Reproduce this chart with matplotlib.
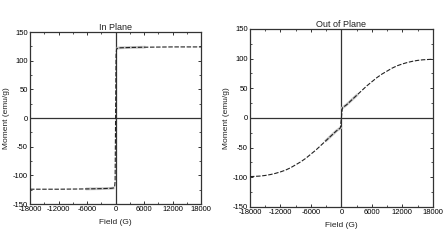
import matplotlib
matplotlib.use("Agg")
import matplotlib.pyplot as plt
from matplotlib.ticker import MultipleLocator

plt.rcParams["font.family"] = ["Liberation Sans", "DejaVu Sans"]
plt.rcParams["axes.unicode_minus"] = False

# in plane loop
ip_field = [-18000, -12000, -6000, -3000, -1000, -500, -200, -100, 0, 100, 200, 500, 1000, 3000, 6000, 12000, 18000]
ip_moment = [-124, -124, -123.5, -123, -122.5, -122, -120, -110, 0, 110, 120, 122, 122.5, 123, 123.5, 124, 124]
ip_grey_field = [-6000, -3000, -1000, -500, 500, 1000, 3000, 6000]
ip_grey_moment = [-123.5, -123, -122.5, -122, 122, 122.5, 123, 123.5]

# out of plane loop
oop_field = [-18000, -17000, -16000, -15000, -14000, -13000, -12000, -11000, -10000, -9000, -8000,
             -7000, -6000, -5000, -4000, -3000, -2000, -1000, -200, 0, 200, 1000, 2000, 3000, 4000,
             5000, 6000, 7000, 8000, 9000, 10000, 11000, 12000, 13000, 14000, 15000, 16000, 17000, 18000]
oop_moment = [-99, -98.5, -98, -97, -95.5, -93.5, -91, -88, -84, -79, -74,
              -68, -61, -54, -46, -38, -30, -22, -17, 0, 17, 22, 30, 38, 46,
              54, 61, 68, 74, 79, 84, 88, 91, 93.5, 95.5, 97, 98, 98.5, 99]
oop_grey_field = [-3000, -2000, -1000, -200, 200, 1000, 2000, 3000]
oop_grey_moment = [-38, -30, -22, -17, 17, 22, 30, 38]

xticks = [-18000, -12000, -6000, 0, 6000, 12000, 18000]
yticks = [-150, -100, -50, 0, 50, 100, 150]

fig = plt.figure(figsize=(4.48, 2.52), dpi=100)
ax1 = fig.add_axes([0.067, 0.19, 0.382, 0.683])
ax2 = fig.add_axes([0.558, 0.179, 0.408, 0.706])

panels = [
    (ax1, "In Plane", ip_field, ip_moment, ip_grey_field, ip_grey_moment),
    (ax2, "Out of Plane", oop_field, oop_moment, oop_grey_field, oop_grey_moment),
]

for ax, title, f, m, gf, gm in panels:
    ax.axhline(0, color="#333333", lw=0.9, zorder=1)
    ax.axvline(0, color="#333333", lw=0.9, zorder=1)
    half = len(gf) // 2
    ax.plot(gf[:half], gm[:half], color="#c8c8c8", lw=2.0, zorder=2)
    ax.plot(gf[half:], gm[half:], color="#c8c8c8", lw=2.0, zorder=2)
    ax.plot(f, m, color="#222222", lw=0.8, ls=(0, (4, 1.5)), zorder=3)
    ax.set_xlim(-18000, 18000)
    ax.set_ylim(-150, 150)
    ax.set_xticks(xticks)
    ax.set_yticks(yticks)
    ax.xaxis.set_minor_locator(MultipleLocator(3000))
    ax.yaxis.set_minor_locator(MultipleLocator(25))
    ax.tick_params(which="both", direction="in", top=True, right=True,
                   labelsize=5.5, color="#333333", pad=1.5)
    ax.tick_params(which="major", length=2.5, width=0.7)
    ax.tick_params(which="minor", length=1.5, width=0.6)
    for s in ax.spines.values():
        s.set_color("#333333")
        s.set_linewidth(0.9)
    ax.set_title(title, fontsize=6.5, pad=1.5, color="#222222")
    ax.set_xlabel("Field (G)", fontsize=6, labelpad=4, color="#222222")
    ax.set_ylabel("Moment (emu/g)", fontsize=6, labelpad=2, color="#222222")

fig.savefig("out.png", dpi=100)
